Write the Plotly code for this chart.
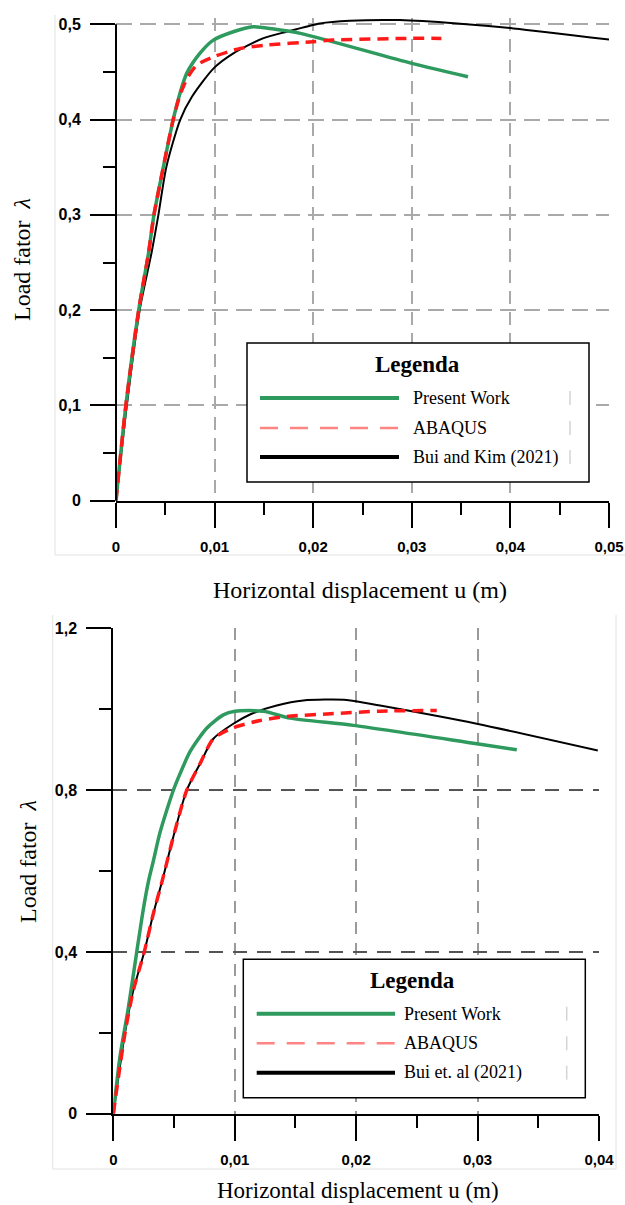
import plotly.graph_objects as go

# ---------------- data ----------------
# Top chart (upper panel)
top_green_x = [0, 0.0010, 0.0023, 0.0033, 0.00385, 0.0048, 0.0058, 0.0065, 0.00717, 0.0085, 0.00987, 0.0119, 0.0139, 0.0160, 0.0187, 0.0300, 0.0357]
top_green_y = [0, 0.100, 0.200, 0.260, 0.300, 0.350, 0.400, 0.428, 0.4485, 0.4694, 0.4834, 0.4922, 0.4974, 0.4950, 0.4905, 0.4590, 0.4450]

top_red_x = [0, 0.0010, 0.0023, 0.0033, 0.00385, 0.0048, 0.0058, 0.0065, 0.0072, 0.0082, 0.0099, 0.0126, 0.0153, 0.0200, 0.0220, 0.0298, 0.0330]
top_red_y = [0, 0.100, 0.200, 0.260, 0.300, 0.350, 0.400, 0.426, 0.443, 0.4572, 0.4659, 0.4747, 0.4782, 0.4817, 0.4834, 0.4852, 0.4852]

top_black_x = [0, 0.0011, 0.0024, 0.0036, 0.0043, 0.0051, 0.0065, 0.0077, 0.0099, 0.0119, 0.0149, 0.0173, 0.0207, 0.0237, 0.0288, 0.0346, 0.0403, 0.0500]
top_black_y = [0, 0.100, 0.200, 0.260, 0.300, 0.350, 0.3995, 0.4239, 0.4537, 0.4694, 0.4852, 0.4922, 0.5009, 0.5037, 0.5044, 0.5009, 0.4957, 0.4841]

# Bottom chart (lower panel)
bot_green_x = [0, 0.00055, 0.00124, 0.00193, 0.00247, 0.0029, 0.0033, 0.0038, 0.0044, 0.00494, 0.00549, 0.00632, 0.00769, 0.00906, 0.01002, 0.01236, 0.01456, 0.01977, 0.02993, 0.03323]
bot_green_y = [0, 0.141, 0.262, 0.400, 0.505, 0.575, 0.625, 0.690, 0.750, 0.799, 0.840, 0.895, 0.953, 0.986, 0.995, 0.995, 0.978, 0.960, 0.9146, 0.8998]

bot_red_x = [0, 0.00096, 0.00165, 0.00255, 0.0033, 0.00404, 0.00494, 0.00604, 0.00714, 0.00824, 0.00988, 0.01208, 0.01428, 0.01786, 0.02197, 0.02664]
bot_red_y = [0, 0.1985, 0.305, 0.400, 0.495, 0.577, 0.684, 0.799, 0.865, 0.927, 0.954, 0.972, 0.982, 0.9886, 0.9951, 0.997]

bot_black_x = [0, 0.00096, 0.00165, 0.00255, 0.0033, 0.00404, 0.00494, 0.00604, 0.00714, 0.00824, 0.00988, 0.01126, 0.01346, 0.01565, 0.01922, 0.02197, 0.02993, 0.0399]
bot_black_y = [0, 0.1985, 0.305, 0.400, 0.495, 0.577, 0.684, 0.799, 0.865, 0.927, 0.964, 0.987, 1.009, 1.0215, 1.023, 1.009, 0.964, 0.898]

# Ticks
top_x_ticks = [0, 0.01, 0.02, 0.03, 0.04, 0.05]
top_x_labels = ["0", "0,01", "0,02", "0,03", "0,04", "0,05"]
top_x_minor = [0.005, 0.015, 0.025, 0.035, 0.045]
top_y_ticks = [0, 0.1, 0.2, 0.3, 0.4, 0.5]
top_y_labels = ["0", "0,1", "0,2", "0,3", "0,4", "0,5"]
top_y_minor = [0.05, 0.15, 0.25, 0.35, 0.45]

bot_x_ticks = [0, 0.01, 0.02, 0.03, 0.04]
bot_x_labels = ["0", "0,01", "0,02", "0,03", "0,04"]
bot_x_minor = [0.005, 0.015, 0.025, 0.035]
bot_y_ticks = [0, 0.4, 0.8, 1.2]
bot_y_labels = ["0", "0,4", "0,8", "1,2"]
bot_y_minor = [0.2, 0.6, 1.0]

series_names = ["Present Work", "ABAQUS"]
top_ref_name = "Bui and Kim (2021)"
bot_ref_name = "Bui et. al (2021)"

# ---------------- layout helpers ----------------
W, H = 625, 1205
def PX(x):
    return x / W
def PY(y):
    return 1 - y / H

GREEN = "#2e9a5e"
RED = "#ff1a1a"
LEG_RED = "#ff8585"
SERIF = "Liberation Serif"
SANS = "Liberation Sans"

# window-pixel geometry of the two plot areas
T_X0, T_X1 = 116, 609          # x = 0 .. 0.05
T_Y0, T_Y05 = 500.7, 24.3      # y = 0 .. 0.5
T_YMAX = 0.507
t_scale = (T_Y0 - T_Y05) / 0.5
T_YTOP = T_Y0 - T_YMAX * t_scale

B_X0, B_X1 = 113.3, 599        # x = 0 .. 0.04
B_Y0, B_Y12 = 1113.7, 628.3    # y = 0 .. 1.2

fig = go.Figure()

def add_series(xs, ys, color, width, dash, xa, ya, name):
    fig.add_trace(go.Scatter(x=xs, y=ys, mode="lines", name=name, showlegend=False,
                             line=dict(color=color, width=width, dash=dash, shape="spline", smoothing=0.7),
                             xaxis=xa, yaxis=ya, hoverinfo="skip"))

add_series(top_black_x, top_black_y, "black", 2, "solid", "x", "y", top_ref_name)
add_series(top_green_x, top_green_y, GREEN, 3.5, "solid", "x", "y", series_names[0])
add_series(top_red_x, top_red_y, RED, 3.5, "11px,7px", "x", "y", series_names[1])

add_series(bot_black_x, bot_black_y, "black", 2, "solid", "x2", "y2", bot_ref_name)
add_series(bot_green_x, bot_green_y, GREEN, 3.5, "solid", "x2", "y2", series_names[0])
add_series(bot_red_x, bot_red_y, RED, 3.5, "11px,7px", "x2", "y2", series_names[1])

tickfont = dict(family=SANS, size=16, color="black", weight="bold")

def axis(domain, rng, tickvals, ticktext, minor, gridcolor, griddash, anchor, showline=True, fsize=16):
    return dict(domain=domain, range=rng, anchor=anchor, automargin=False,
                tickmode="array", tickvals=tickvals, ticktext=ticktext,
                ticks="outside", ticklen=25, tickwidth=2, tickcolor="black",
                ticklabelstandoff=6,
                minor=dict(tickmode="array", tickvals=minor, ticks="outside", ticklen=12,
                           tickwidth=2, tickcolor="black", showgrid=False),
                showline=showline, linecolor="black", linewidth=2,
                showgrid=True, gridcolor=gridcolor, griddash=griddash, gridwidth=1.5,
                zeroline=False, tickfont=dict(tickfont, size=fsize), fixedrange=True)

fig.update_layout(
    width=W, height=H, margin=dict(l=0, r=0, t=0, b=0, autoexpand=False),
    paper_bgcolor="white", plot_bgcolor="white",
    xaxis=axis([PX(T_X0), PX(T_X1)], [0, 0.05], top_x_ticks, top_x_labels, top_x_minor,
               "#a9a9a9", "13px,8px", "y", fsize=15),
    yaxis=axis([PY(T_Y0), PY(T_YTOP)], [0, T_YMAX], top_y_ticks, top_y_labels, top_y_minor,
               "#a9a9a9", "16px,8px", "x", showline=False),
    xaxis2=axis([PX(B_X0), PX(B_X1)], [0, 0.04], bot_x_ticks, bot_x_labels, bot_x_minor,
                "#9a9a9a", "12px,9px", "y2", fsize=15),
    yaxis2=axis([PY(B_Y0), PY(B_Y12)], [0, 1.2], bot_y_ticks, bot_y_labels, bot_y_minor,
                "#555555", "14px,10px", "x2", fsize=16),
)

shapes = []
def line(x0, y0, x1, y1, color, width, dash="solid"):
    shapes.append(dict(type="line", xref="paper", yref="paper", x0=PX(x0), y0=PY(y0),
                       x1=PX(x1), y1=PY(y1), line=dict(color=color, width=width, dash=dash),
                       layer="above"))

# light image frames
line(55, 15, 55, 555, "#e2e2e2", 1)
line(55, 555, 625, 555, "#e2e2e2", 1)
line(52.7, 615, 52.7, 1169, "#e2e2e2", 1)
line(52.7, 1169, 616, 1169, "#e2e2e2", 1)
line(616, 615, 616, 1169, "#e2e2e2", 1)

# top y-axis line (ends at 0.5)
line(T_X0, T_Y0, T_X0, T_Y05, "black", 2)

annotations = []
def text(x, y, s, size, family=SERIF, xanchor="center", angle=0, bold=False):
    annotations.append(dict(x=PX(x), y=PY(y), xref="paper", yref="paper", text=s,
                            showarrow=False, xanchor=xanchor, yanchor="middle", textangle=angle,
                            font=dict(family=family, size=size, color="black",
                                      weight="bold" if bold else "normal")))

def legend(bx0, by0, bx1, by1, title_xy, ys, lx0, lx1, tx, mark_x, ref_name):
    shapes.append(dict(type="rect", xref="paper", yref="paper", x0=PX(bx0), y0=PY(by1),
                       x1=PX(bx1), y1=PY(by0), line=dict(color="black", width=1.5),
                       fillcolor="white", layer="above"))
    line(lx0, ys[0], lx1, ys[0], GREEN, 4)
    line(lx0, ys[1], lx1, ys[1], LEG_RED, 2.5, "18px,12px")
    line(lx0, ys[2], lx1, ys[2], "black", 4)
    for yy in ys:
        line(mark_x, yy - 7, mark_x, yy + 7, "#d4d4d4", 1.5)
    text(title_xy[0], title_xy[1], "Legenda", 23, bold=True)
    for yy, name in zip(ys, [series_names[0], series_names[1], ref_name]):
        text(tx, yy, name, 18, xanchor="left")

legend(247, 343, 589, 482, (417, 364), [398, 428, 457], 260, 399, 411, 570, top_ref_name)
legend(243.3, 959.3, 585.3, 1097.7, (412.7, 980), [1013.7, 1043.3, 1072.7], 256.7, 395, 402, 566.7, bot_ref_name)

# axis titles
text(360, 590, "Horizontal displacement u (m)", 24)
text(22, 260, "Load fator &nbsp;<i>λ</i>", 24, angle=-90)
text(358, 1190, "Horizontal displacement u (m)", 23)
text(28, 862, "Load fator &nbsp;<i>λ</i>", 24, angle=-90)

fig.update_layout(shapes=shapes, annotations=annotations)
fig.write_html("out.html", config={"displayModeBar": False},
               post_script="document.body.style.margin='0px'; document.body.style.overflow='hidden';")
